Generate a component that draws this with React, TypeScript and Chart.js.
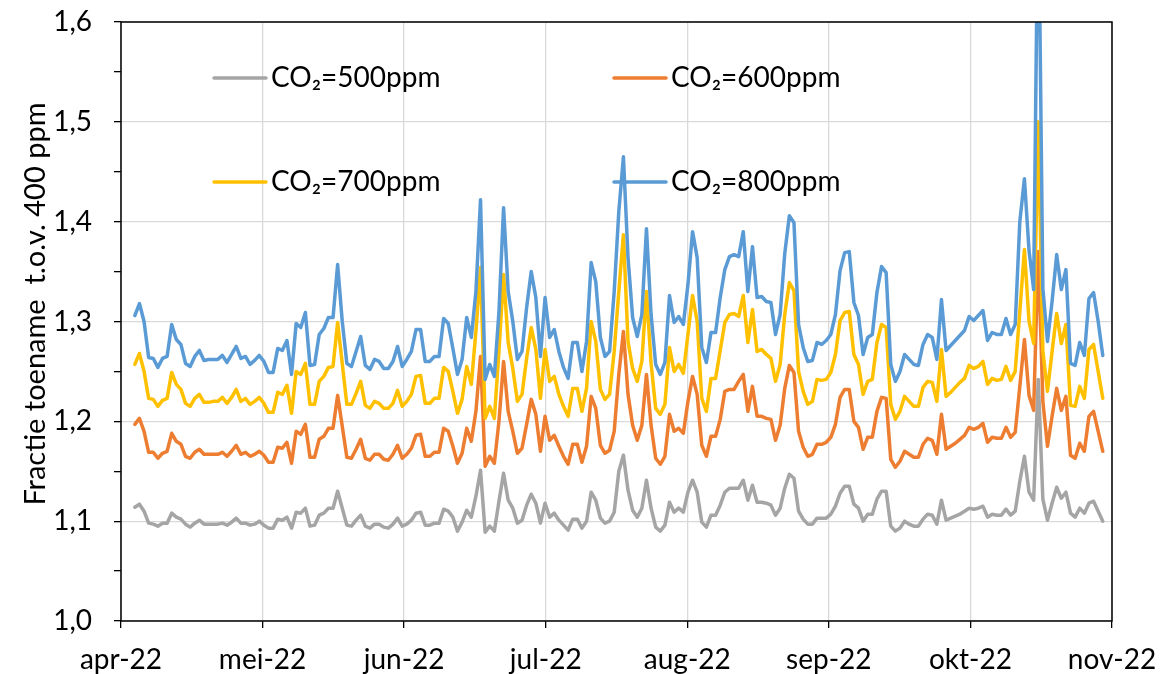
import React, { useEffect, useRef } from 'react';
import { Chart, registerables } from 'chart.js';

Chart.register(...registerables);

// ---- data ----
const monthLabels = ['apr-22', 'mei-22', 'jun-22', 'jul-22', 'aug-22', 'sep-22', 'okt-22', 'nov-22'];
const axisMaxDay = 215; // axis span in days from 1 april
const firstDay = 3; // first data point: 4 april (days after 1 april)
const yTitle = 'Fractie toename  t.o.v. 400 ppm';
const seriesLabels = ['CO\u2082=500ppm', 'CO\u2082=600ppm', 'CO\u2082=700ppm', 'CO\u2082=800ppm'];

const co2_500 = [
  1.114, 1.117, 1.110, 1.098, 1.097, 1.095, 1.098, 1.098, 1.108, 1.104,
  1.102, 1.097, 1.094, 1.098, 1.101, 1.097, 1.097, 1.097, 1.097, 1.098,
  1.096, 1.099, 1.103, 1.098, 1.098, 1.096, 1.097, 1.100, 1.096, 1.093,
  1.093, 1.102, 1.101, 1.104, 1.093, 1.109, 1.108, 1.113, 1.095, 1.096,
  1.106, 1.108, 1.113, 1.113, 1.130, 1.113, 1.096, 1.095, 1.101, 1.106,
  1.095, 1.093, 1.097, 1.097, 1.094, 1.093, 1.097, 1.103, 1.095, 1.097,
  1.101, 1.108, 1.109, 1.096, 1.096, 1.098, 1.098, 1.112, 1.110, 1.104,
  1.090, 1.099, 1.111, 1.104, 1.125, 1.151, 1.089, 1.095, 1.090, 1.120,
  1.148, 1.121, 1.113, 1.098, 1.101, 1.116, 1.127, 1.118, 1.098, 1.118,
  1.104, 1.108, 1.101, 1.096, 1.091, 1.102, 1.102, 1.093, 1.100, 1.129,
  1.121, 1.103, 1.098, 1.100, 1.109, 1.150, 1.166, 1.131, 1.111, 1.104,
  1.113, 1.141, 1.113, 1.094, 1.090, 1.096, 1.119, 1.109, 1.113, 1.109,
  1.129, 1.141, 1.129, 1.099, 1.094, 1.106, 1.106, 1.116, 1.129, 1.133,
  1.133, 1.133, 1.141, 1.121, 1.136, 1.119, 1.119, 1.118, 1.116, 1.106,
  1.113, 1.133, 1.147, 1.143, 1.110, 1.102, 1.097, 1.097, 1.103, 1.103,
  1.103, 1.107, 1.115, 1.128, 1.135, 1.135, 1.117, 1.113, 1.100, 1.107,
  1.107, 1.122, 1.130, 1.130, 1.095, 1.090, 1.093, 1.100, 1.097, 1.095,
  1.095, 1.102, 1.107, 1.106, 1.097, 1.121, 1.101, 1.103, 1.105, 1.107,
  1.110, 1.113, 1.112, 1.113, 1.115, 1.104, 1.107, 1.106, 1.106, 1.112,
  1.106, 1.110, 1.140, 1.165, 1.129, 1.121, 1.242, 1.122, 1.101, 1.118,
  1.134, 1.123, 1.129, 1.108, 1.104, 1.113, 1.108, 1.118, 1.120, 1.110, 1.100,
];

const co2_600 = [
  1.197, 1.203, 1.190, 1.169, 1.169, 1.163, 1.168, 1.170, 1.188, 1.180,
  1.177, 1.165, 1.163, 1.169, 1.172, 1.167, 1.167, 1.167, 1.167, 1.169,
  1.165, 1.170, 1.176, 1.167, 1.169, 1.165, 1.167, 1.170, 1.166, 1.159,
  1.159, 1.174, 1.173, 1.179, 1.158, 1.190, 1.187, 1.197, 1.164, 1.164,
  1.182, 1.185, 1.193, 1.193, 1.226, 1.195, 1.164, 1.163, 1.172, 1.182,
  1.163, 1.161, 1.167, 1.167, 1.162, 1.161, 1.167, 1.176, 1.163, 1.167,
  1.173, 1.186, 1.187, 1.165, 1.165, 1.169, 1.169, 1.193, 1.190, 1.175,
  1.158, 1.168, 1.193, 1.180, 1.210, 1.265, 1.155, 1.165, 1.158, 1.200,
  1.260, 1.210, 1.190, 1.168, 1.173, 1.197, 1.222, 1.207, 1.170, 1.205,
  1.181, 1.186, 1.175, 1.165, 1.157, 1.177, 1.177, 1.159, 1.175, 1.225,
  1.213, 1.176, 1.168, 1.171, 1.190, 1.247, 1.290, 1.227, 1.196, 1.181,
  1.196, 1.247, 1.196, 1.163, 1.157, 1.165, 1.207, 1.190, 1.193, 1.188,
  1.220, 1.245, 1.227, 1.176, 1.165, 1.185, 1.185, 1.202, 1.230, 1.232,
  1.232, 1.240, 1.247, 1.210, 1.235, 1.205, 1.205, 1.203, 1.202, 1.181,
  1.196, 1.233, 1.256, 1.249, 1.190, 1.174, 1.165, 1.167, 1.177, 1.177,
  1.179, 1.184, 1.197, 1.224, 1.232, 1.232, 1.200, 1.194, 1.172, 1.184,
  1.184, 1.210, 1.224, 1.223, 1.162, 1.154, 1.160, 1.170, 1.167, 1.164,
  1.164, 1.177, 1.183, 1.181, 1.167, 1.207, 1.172, 1.175, 1.178, 1.182,
  1.186, 1.194, 1.192, 1.194, 1.198, 1.179, 1.184, 1.183, 1.183, 1.194,
  1.184, 1.189, 1.235, 1.282, 1.226, 1.211, 1.370, 1.220, 1.175, 1.205,
  1.233, 1.211, 1.225, 1.166, 1.163, 1.178, 1.170, 1.205, 1.210, 1.190, 1.170,
];

const co2_700 = [
  1.257, 1.268, 1.250, 1.223, 1.222, 1.215, 1.221, 1.223, 1.249, 1.237,
  1.232, 1.218, 1.215, 1.223, 1.227, 1.219, 1.219, 1.220, 1.220, 1.224,
  1.218, 1.224, 1.232, 1.220, 1.223, 1.217, 1.220, 1.224, 1.218, 1.209,
  1.209, 1.229, 1.227, 1.236, 1.208, 1.250, 1.247, 1.258, 1.217, 1.217,
  1.240, 1.245, 1.254, 1.255, 1.299, 1.258, 1.217, 1.217, 1.228, 1.240,
  1.216, 1.213, 1.220, 1.218, 1.213, 1.213, 1.218, 1.231, 1.215, 1.220,
  1.227, 1.245, 1.246, 1.218, 1.218, 1.223, 1.223, 1.254, 1.250, 1.230,
  1.208, 1.222, 1.255, 1.237, 1.290, 1.354, 1.203, 1.215, 1.203, 1.270,
  1.347, 1.279, 1.253, 1.220, 1.227, 1.263, 1.294, 1.272, 1.223, 1.272,
  1.240, 1.245, 1.227, 1.215, 1.205, 1.233, 1.233, 1.210, 1.233, 1.300,
  1.280, 1.232, 1.222, 1.227, 1.270, 1.330, 1.387, 1.280, 1.253, 1.240,
  1.260, 1.330, 1.258, 1.213, 1.207, 1.217, 1.274, 1.250, 1.257, 1.248,
  1.287, 1.326, 1.300, 1.223, 1.210, 1.243, 1.243, 1.271, 1.299, 1.307,
  1.308, 1.305, 1.326, 1.279, 1.312, 1.270, 1.272, 1.267, 1.263, 1.240,
  1.257, 1.307, 1.339, 1.331, 1.250, 1.230, 1.217, 1.220, 1.242, 1.241,
  1.242, 1.249, 1.267, 1.301, 1.309, 1.310, 1.267, 1.257, 1.227, 1.240,
  1.242, 1.279, 1.297, 1.294, 1.217, 1.202, 1.210, 1.225, 1.220, 1.215,
  1.215, 1.234, 1.240, 1.239, 1.220, 1.272, 1.225, 1.229, 1.234, 1.239,
  1.243, 1.256, 1.253, 1.255, 1.260, 1.237, 1.243, 1.241, 1.242, 1.255,
  1.241, 1.250, 1.310, 1.372, 1.300, 1.278, 1.500, 1.270, 1.230, 1.270,
  1.308, 1.278, 1.297, 1.216, 1.215, 1.235, 1.223, 1.272, 1.277, 1.250, 1.223,
];

const co2_800 = [
  1.306, 1.318, 1.300, 1.264, 1.263, 1.254, 1.263, 1.265, 1.297, 1.282,
  1.277, 1.258, 1.255, 1.265, 1.271, 1.261, 1.262, 1.262, 1.262, 1.266,
  1.259, 1.267, 1.275, 1.263, 1.265, 1.257, 1.261, 1.266, 1.260, 1.249,
  1.249, 1.273, 1.271, 1.281, 1.247, 1.298, 1.294, 1.309, 1.256, 1.257,
  1.287, 1.293, 1.304, 1.304, 1.357, 1.300, 1.258, 1.255, 1.270, 1.285,
  1.256, 1.252, 1.262, 1.260, 1.253, 1.253, 1.260, 1.275, 1.255, 1.262,
  1.270, 1.292, 1.292, 1.260, 1.260, 1.265, 1.265, 1.303, 1.298, 1.273,
  1.247, 1.262, 1.304, 1.284, 1.330, 1.422, 1.242, 1.257, 1.245, 1.310,
  1.414, 1.330, 1.300, 1.262, 1.270, 1.314, 1.350, 1.324, 1.265, 1.324,
  1.284, 1.292, 1.270, 1.254, 1.243, 1.279, 1.279, 1.250, 1.280, 1.359,
  1.340, 1.284, 1.265, 1.270, 1.330, 1.410, 1.465, 1.364, 1.304, 1.285,
  1.307, 1.393, 1.307, 1.257, 1.247, 1.259, 1.326, 1.299, 1.305, 1.297,
  1.337, 1.390, 1.364, 1.274, 1.259, 1.289, 1.289, 1.324, 1.352, 1.365,
  1.367, 1.365, 1.390, 1.330, 1.375, 1.324, 1.325, 1.320, 1.319, 1.287,
  1.307, 1.368, 1.406, 1.399, 1.297, 1.274, 1.260, 1.261, 1.279, 1.277,
  1.281, 1.287, 1.307, 1.351, 1.369, 1.370, 1.319, 1.306, 1.267, 1.284,
  1.287, 1.329, 1.355, 1.349, 1.257, 1.240, 1.250, 1.267, 1.262, 1.257,
  1.256, 1.277, 1.287, 1.284, 1.262, 1.322, 1.271, 1.276, 1.281, 1.286,
  1.291, 1.305, 1.301, 1.306, 1.311, 1.281, 1.289, 1.287, 1.287, 1.303,
  1.287, 1.297, 1.400, 1.443, 1.371, 1.332, 1.750, 1.333, 1.280, 1.320,
  1.367, 1.332, 1.352, 1.258, 1.256, 1.279, 1.266, 1.323, 1.329, 1.300, 1.266,
];

const seriesValues = [co2_500, co2_600, co2_700, co2_800];
const seriesColors = ['#A5A5A5', '#ED7D31', '#FFC000', '#5B9BD5'];

const FONT = 'Lato, "Open Sans", sans-serif';

const legendPlugin = {
  id: 'customLegendFrame',
  afterDatasetsDraw(chart: any) {
    const { ctx } = chart;
    const slots = [
      { x: 214, y: 78 },
      { x: 614, y: 78 },
      { x: 214, y: 182 },
      { x: 614, y: 182 },
    ];
    ctx.save();
    slots.forEach((s, i) => {
      ctx.strokeStyle = seriesColors[i];
      ctx.lineWidth = 3.5;
      ctx.lineCap = 'round';
      ctx.beginPath();
      ctx.moveTo(s.x, s.y);
      ctx.lineTo(s.x + 52, s.y);
      ctx.stroke();
      ctx.fillStyle = '#000';
      ctx.font = `28px ${FONT}`;
      ctx.textAlign = 'left';
      ctx.textBaseline = 'middle';
      ctx.fillText(seriesLabels[i], s.x + 57, s.y);
    });
    ctx.restore();
  },
  afterDraw(chart: any) {
    const { ctx, chartArea } = chart;
    ctx.save();
    ctx.strokeStyle = '#000';
    ctx.lineWidth = 1.5;
    ctx.strokeRect(chartArea.left, chartArea.top, chartArea.right - chartArea.left, chartArea.bottom - chartArea.top);
    ctx.translate(36, 304);
    ctx.rotate(-Math.PI / 2);
    ctx.fillStyle = '#000';
    ctx.font = `29px ${FONT}`;
    ctx.textAlign = 'center';
    ctx.textBaseline = 'middle';
    ctx.fillText(yTitle, 0, 0);
    ctx.restore();
  },
};

export default function App() {
  const canvasRef = useRef<HTMLCanvasElement | null>(null);

  useEffect(() => {
    if (!canvasRef.current) return;
    const datasets = seriesValues.map((vals, si) => ({
      label: seriesLabels[si],
      data: vals.map((v, i) => ({ x: firstDay + i, y: v })),
      borderColor: seriesColors[si],
      backgroundColor: seriesColors[si],
      borderWidth: 3.5,
      pointRadius: 0,
      tension: 0,
      borderJoinStyle: 'round' as const,
      borderCapStyle: 'round' as const,
      order: 3 - si,
    }));

    const chart = new Chart(canvasRef.current, {
      type: 'line',
      data: { datasets },
      options: {
        animation: false,
        responsive: false,
        events: [],
        layout: { padding: { left: 0, right: 61, top: 22, bottom: 0 } },
        plugins: {
          legend: { display: false },
          tooltip: { enabled: false },
          title: { display: false },
        },
        scales: {
          x: {
            type: 'linear',
            min: 0,
            max: axisMaxDay,
            afterBuildTicks: (scale: any) => {
              scale.ticks = monthLabels.map((_, k) => ({ value: (k * axisMaxDay) / (monthLabels.length - 1) }));
            },
            afterFit: (scale: any) => {
              scale.height = 53;
            },
            ticks: {
              autoSkip: false,
              maxRotation: 0,
              minRotation: 0,
              padding: 15,
              color: '#000',
              font: { family: FONT, size: 28 },
              callback: (_v: any, index: number) => monthLabels[index],
            },
            grid: {
              color: '#d9d9d9',
              lineWidth: 1.3,
              tickColor: '#000',
              tickLength: 7,
              drawTicks: true,
            },
            border: { display: false },
          },
          y: {
            type: 'linear',
            min: 1.0,
            max: 1.6,
            afterBuildTicks: (scale: any) => {
              const t = [];
              for (let k = 0; k <= 12; k++) t.push({ value: Math.round((1 + k * 0.05) * 100) / 100 });
              scale.ticks = t;
            },
            afterFit: (scale: any) => {
              scale.width = 121;
              scale.paddingTop = 0;
              scale.paddingBottom = 0;
            },
            ticks: {
              padding: 22,
              color: '#000',
              font: { family: FONT, size: 28 },
              callback: (v: any) => {
                const n = Number(v);
                const major = Math.abs(n * 10 - Math.round(n * 10)) < 1e-6;
                return major ? n.toFixed(1).replace('.', ',') : '';
              },
            },
            grid: {
              color: (c: any) => {
                const n = c.tick ? c.tick.value : 0;
                return Math.abs(n * 10 - Math.round(n * 10)) < 1e-6 ? '#d9d9d9' : 'rgba(0,0,0,0)';
              },
              lineWidth: 1.3,
              tickColor: '#000',
              tickLength: 7,
            },
            border: { display: false },
          },
        },
      },
      plugins: [legendPlugin],
    });
    return () => chart.destroy();
  }, []);

  return (
    <div style={{ position: 'fixed', left: 0, top: 0, width: 1173, height: 674, background: '#fff' }}>
      <canvas ref={canvasRef} width={1173} height={674} style={{ display: 'block' }} />
    </div>
  );
}
